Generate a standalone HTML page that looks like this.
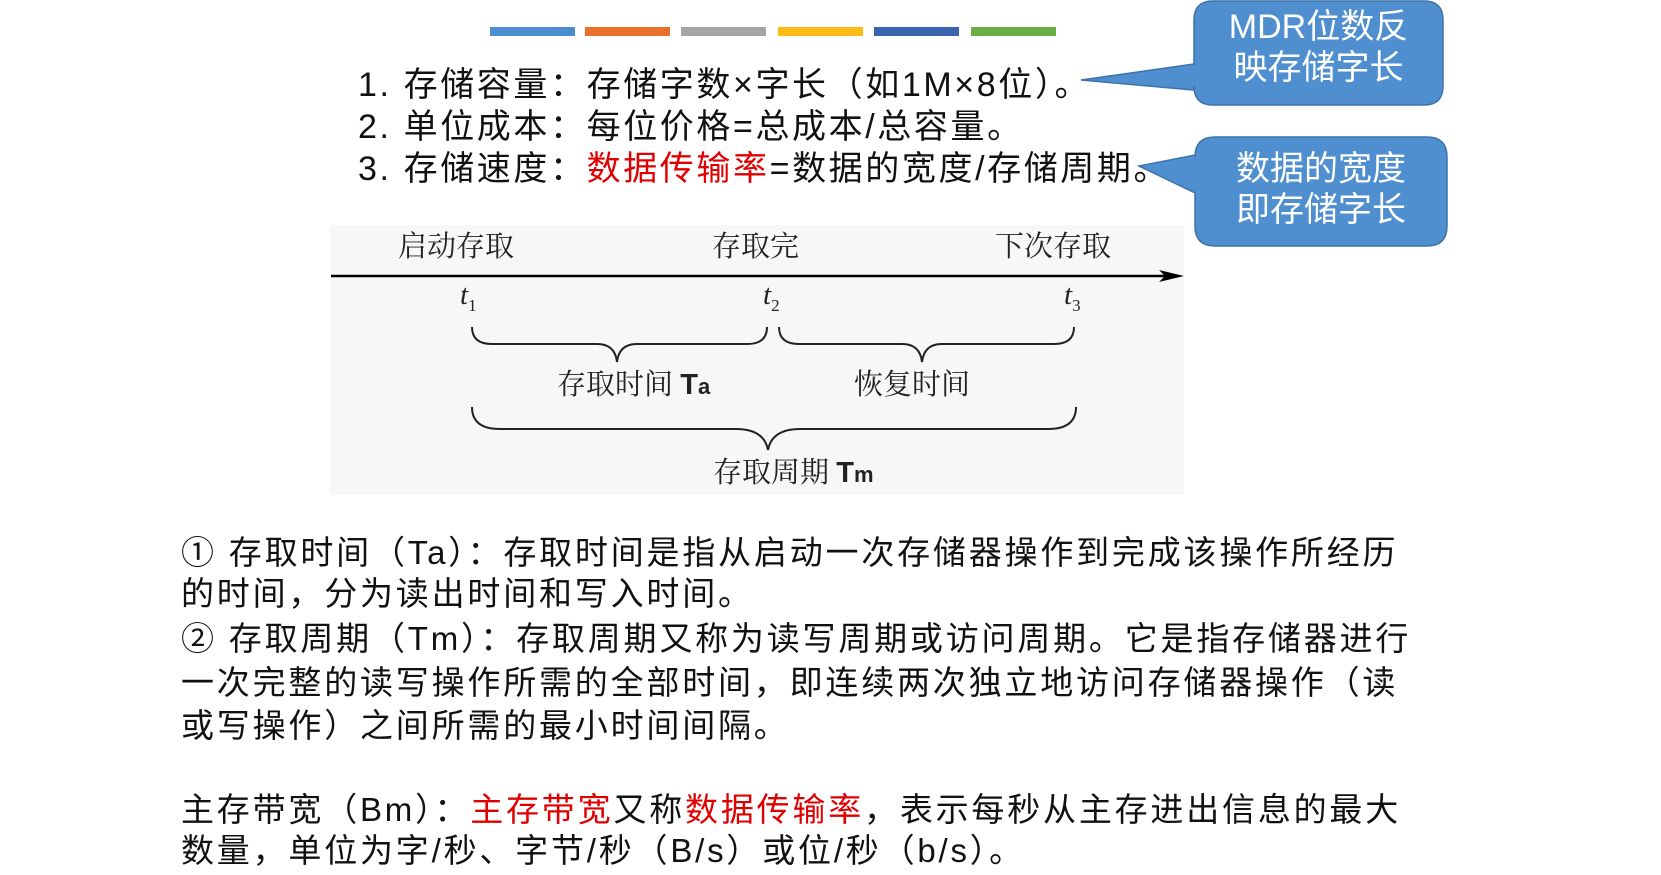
<!DOCTYPE html>
<html><head><meta charset="utf-8"><style>
body{margin:0;width:1661px;height:875px;background:#fff;position:relative;overflow:hidden;font-family:"Liberation Sans","Noto Sans CJK SC",sans-serif;}
.a{position:absolute;white-space:nowrap;}
.t{font-size:34px;color:#111;line-height:40px;letter-spacing:2.6px;}
.b{font-size:33px;color:#111;line-height:40px;letter-spacing:2.8px;}
.r{color:#e00000;}
.s{font-family:"Liberation Serif","Noto Serif CJK SC",serif;font-size:29px;color:#222;}
.bar{position:absolute;top:27px;height:9px;width:85px;}
</style></head><body>
<div class="bar" style="left:490px;background:#4a8ed0"></div>
<div class="bar" style="left:585px;background:#e8702a"></div>
<div class="bar" style="left:681px;background:#a5a5a5"></div>
<div class="bar" style="left:778px;background:#fdbb16"></div>
<div class="bar" style="left:874px;background:#3a64b0"></div>
<div class="bar" style="left:971px;background:#6aae45"></div>

<div class="a t" style="left:358px;top:65px">1. 存储容量：存储字数×字长（如1M×8位）。</div>
<div class="a t" style="left:358px;top:107px">2. 单位成本：每位价格=总成本/总容量。</div>
<div class="a t" style="left:358px;top:149px">3. 存储速度：<span class="r">数据传输率</span>=数据的宽度/存储周期。</div>

<svg class="a" style="left:0;top:0" width="1661" height="875">
<path d="M1213,1 H1424 Q1443,1 1443,20 V86 Q1443,105 1424,105 H1213 Q1194,105 1194,86 V90 L1081,80 L1194,64 V20 Q1194,1 1213,1Z" fill="#4f8fcf" stroke="#3b73a8" stroke-width="1.5"/>
<path d="M1215,137 H1427 Q1447,137 1447,157 V226 Q1447,246 1427,246 H1215 Q1195,246 1195,226 V193 L1139,166 L1195,155 V157 Q1195,137 1215,137Z" fill="#4f8fcf" stroke="#3b73a8" stroke-width="1.5"/>
<rect x="330" y="225" width="854" height="270" fill="#f7f7f7"/>
<line x1="331" y1="276" x2="1172" y2="276" stroke="#000" stroke-width="2.5"/>
<path d="M1184,276 L1159,270 L1165,276 L1159,282Z" fill="#000"/>
<g fill="none" stroke="#222" stroke-width="2">
<path d="M472,327 Q472,344 492,344 H597 Q615,344 617,362 Q619,344 637,344 H747 Q767,344 767,327"/>
<path d="M779,327 Q779,344 799,344 H902 Q920,344 922,362 Q924,344 942,344 H1054 Q1074,344 1074,327"/>
<path d="M472,407 Q472,429 500,429 H736 Q764,429 768,450 Q772,429 800,429 H1048 Q1076,429 1076,407"/>
</g>
</svg>
<div class="a" style="left:1194px;top:7px;width:249px;text-align:center;color:#fff;font-size:34px;line-height:41px">MDR位数反<br>映存储字长</div>
<div class="a" style="left:1195px;top:149px;width:252px;text-align:center;color:#fff;font-size:34px;line-height:41px">数据的宽度<br>即存储字长</div>

<div class="a s" style="left:398px;top:224px">启动存取</div>
<div class="a s" style="left:712px;top:224px">存取完</div>
<div class="a s" style="left:995px;top:224px">下次存取</div>
<div class="a s" style="left:460px;top:279px;font-style:italic">t<sub style="font-size:17px;font-style:normal">1</sub></div>
<div class="a s" style="left:763px;top:279px;font-style:italic">t<sub style="font-size:17px;font-style:normal">2</sub></div>
<div class="a s" style="left:1064px;top:279px;font-style:italic">t<sub style="font-size:17px;font-style:normal">3</sub></div>
<div class="a s" style="left:557px;top:362px">存取时间 <span style="font-family:'Liberation Sans';font-weight:bold">T<span style="font-size:22px">a</span></span></div>
<div class="a s" style="left:854px;top:362px">恢复时间</div>
<div class="a s" style="left:713px;top:450px">存取周期 <span style="font-family:'Liberation Sans';font-weight:bold">T<span style="font-size:22px">m</span></span></div>

<div class="a b" style="left:181px;top:533px">① 存取时间（Ta）：存取时间是指从启动一次存储器操作到完成该操作所经历</div>
<div class="a b" style="left:181px;top:574px">的时间，分为读出时间和写入时间。</div>
<div class="a b" style="left:181px;top:619px">② 存取周期（Tm）：存取周期又称为读写周期或访问周期。它是指存储器进行</div>
<div class="a b" style="left:181px;top:663px">一次完整的读写操作所需的全部时间，即连续两次独立地访问存储器操作（读</div>
<div class="a b" style="left:181px;top:706px">或写操作）之间所需的最小时间间隔。</div>
<div class="a b" style="left:181px;top:790px">主存带宽（Bm）：<span class="r">主存带宽</span>又称<span class="r">数据传输率</span>，表示每秒从主存进出信息的最大</div>
<div class="a b" style="left:181px;top:831px">数量，单位为字/秒、字节/秒（B/s）或位/秒（b/s）。</div>
</body></html>
